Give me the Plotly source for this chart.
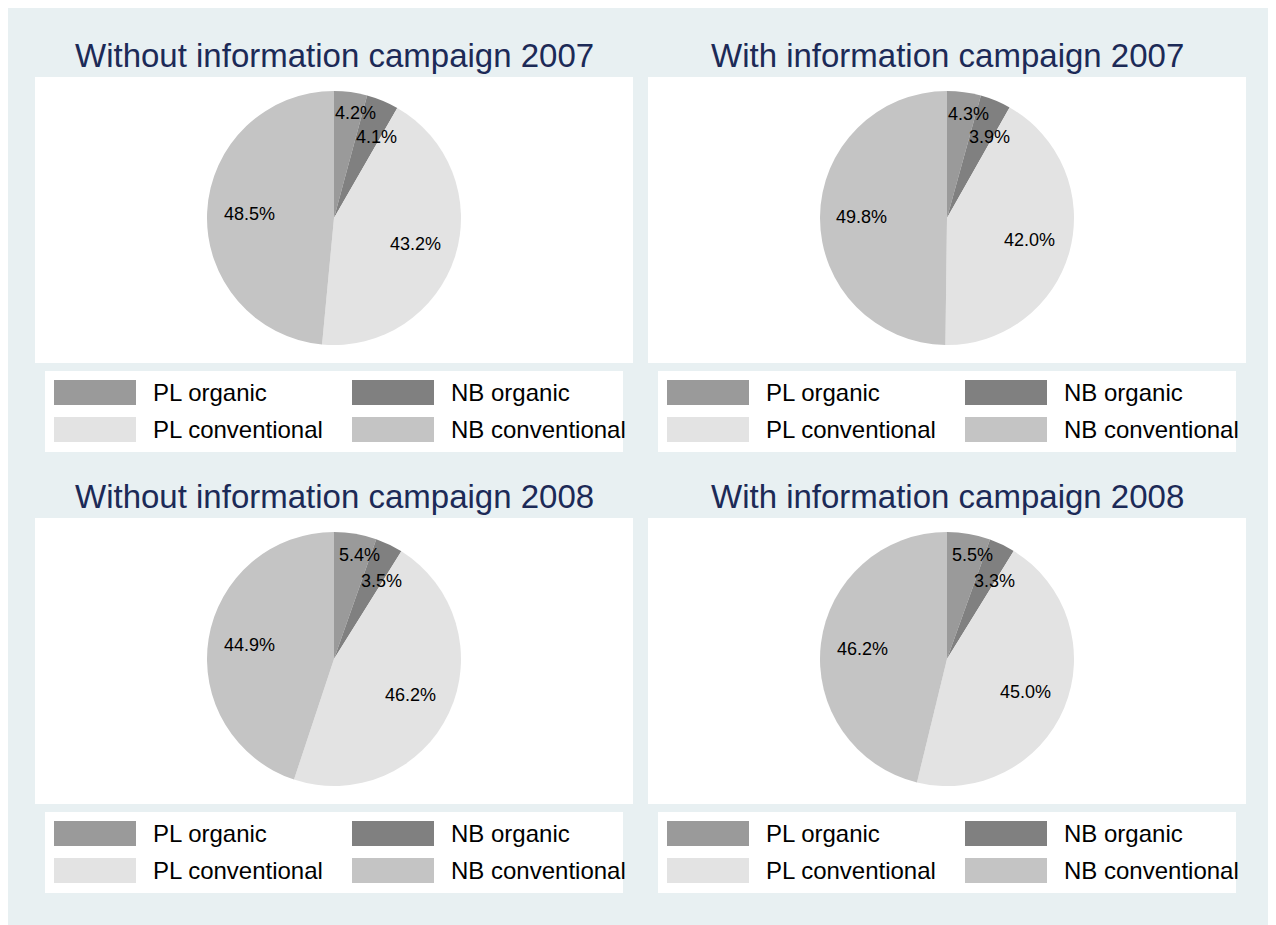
import math
import plotly.graph_objects as go

# ---- data ----
categories = ["PL organic", "NB organic", "PL conventional", "NB conventional"]
titles = [
    "Without information campaign 2007",
    "With information campaign 2007",
    "Without information campaign 2008",
    "With information campaign 2008",
]
without_2007 = [4.2, 4.1, 43.2, 48.5]
with_2007 = [4.3, 3.9, 42.0, 49.8]
without_2008 = [5.4, 3.5, 46.2, 44.9]
with_2008 = [5.5, 3.3, 45.0, 46.2]
panel_values = [without_2007, with_2007, without_2008, with_2008]

# ---- style ----
W, H = 1276, 925
OFF = 8  # page offset of the plot div
colors = ["#9a9a9a", "#808080", "#e3e3e3", "#c4c4c4"]
BG = "#e8f0f2"
TITLE_COLOR = "#1c2a57"
FONT = "Liberation Sans, Arial, sans-serif"
# panel offsets (px)
panel_dx = [0, 613, 0, 613]
panel_dy = [0, 0, 441, 441]
# label placement (radius fraction, angle offset deg) per slice
label_r = [0.84, 0.72, 0.67, 0.67]
label_da = [4.0, 5.5, 0.0, 0.0]


def px(x):
    return (x - OFF) / W


def py(y):
    return 1 - (y - OFF) / H


fig = go.Figure()
shapes = []
annotations = []

R = 127
for i, (vals, title) in enumerate(zip(panel_values, titles)):
    dx, dy = panel_dx[i], panel_dy[i]
    # plot region
    shapes.append(dict(type="rect", xref="paper", yref="paper", x0=px(35 + dx), x1=px(633 + dx),
                       y0=py(363 + dy), y1=py(77 + dy), fillcolor="white",
                       line=dict(width=0), layer="below"))
    # legend box
    shapes.append(dict(type="rect", xref="paper", yref="paper", x0=px(45 + dx), x1=px(623 + dx),
                       y0=py(452 + dy), y1=py(371 + dy), fillcolor="white",
                       line=dict(width=0), layer="below"))
    cx, cy = 334 + dx, 218 + dy
    fig.add_trace(go.Pie(
        labels=categories, values=vals, sort=False, direction="clockwise", rotation=0,
        marker=dict(colors=colors, line=dict(width=0)),
        textinfo="none", hoverinfo="label+percent", showlegend=False,
        domain=dict(x=[px(cx - R), px(cx + R)], y=[py(cy + R), py(cy - R)]),
    ))
    # slice labels
    total = sum(vals)
    cum = 0.0
    for j, v in enumerate(vals):
        mid = (cum + v / 2) / total * 360 + label_da[j]
        cum += v
        rr = R * label_r[j]
        lx = cx + rr * math.sin(math.radians(mid))
        ly = cy - rr * math.cos(math.radians(mid))
        annotations.append(dict(x=px(lx), y=py(ly), xref="paper", yref="paper",
                                text=f"{v:.1f}%", showarrow=False,
                                xanchor="center", yanchor="middle",
                                font=dict(size=18, color="black", family=FONT)))
    # title
    annotations.append(dict(x=px(cx), y=py(55 + dy), xref="paper", yref="paper",
                            text=title, showarrow=False, xanchor="center", yanchor="middle",
                            font=dict(size=33, color=TITLE_COLOR, family=FONT)))
    # legend entries (2 columns, row-major)
    for j, cat in enumerate(categories):
        col, row = j % 2, j // 2
        sx = 54 + dx + col * 298
        sy = 380 + dy + row * 37
        shapes.append(dict(type="rect", xref="paper", yref="paper", x0=px(sx), x1=px(sx + 82),
                           y0=py(sy + 25), y1=py(sy), fillcolor=colors[j],
                           line=dict(width=0), layer="above"))
        annotations.append(dict(x=px(sx + 97), y=py(sy + 12.5), xref="paper", yref="paper",
                                text=cat, showarrow=False, xanchor="left", yanchor="middle",
                                font=dict(size=24, color="black", family=FONT)))

fig.update_layout(
    width=W, height=H, margin=dict(l=0, r=0, t=0, b=0),
    paper_bgcolor=BG, plot_bgcolor=BG,
    shapes=shapes, annotations=annotations,
    font=dict(family=FONT),
)

fig.write_html("out.html")
